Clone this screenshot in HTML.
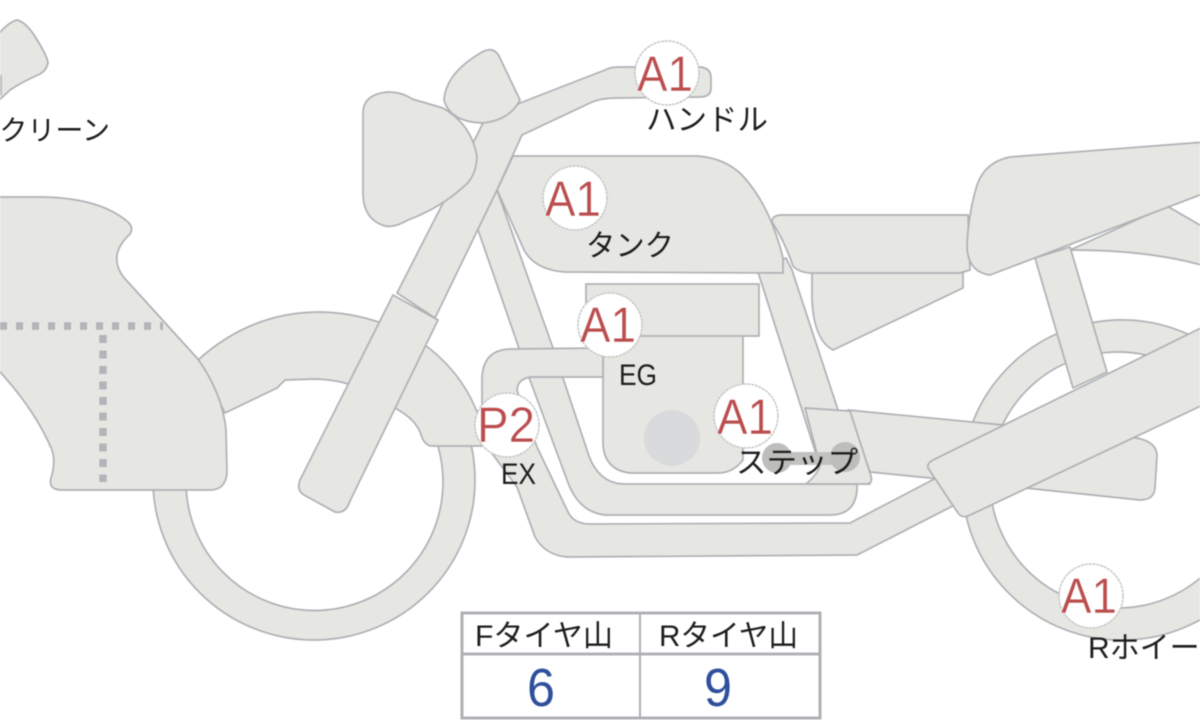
<!DOCTYPE html>
<html lang="ja">
<head>
<meta charset="utf-8">
<title>バイク図</title>
<style>
html,body{margin:0;padding:0;background:#fff;width:1200px;height:720px;overflow:hidden}
svg{display:block;filter:blur(.4px)}
.p{fill:#e6e7e3;stroke:#aeb1b4;stroke-width:1.7;stroke-linejoin:round}
.c{fill:#fff;stroke:#c6c6c6;stroke-width:1.5;stroke-dasharray:3 .8}
.r{font-family:"Liberation Sans",sans-serif;font-size:50px;fill:#bb4d4d;text-anchor:middle;stroke:#fff;stroke-width:.4}
.t{font-family:"Liberation Sans","Noto Sans CJK JP",sans-serif;font-size:30px;fill:#1d1d1d}
.n{font-family:"Liberation Sans",sans-serif;font-size:54px;fill:#2f4f9c;text-anchor:middle}
</style>
</head>
<body>
<svg width="1200" height="720" viewBox="0 0 1200 720" xmlns="http://www.w3.org/2000/svg">
<!-- windscreen -->
<path class="p" d="M-5 38 Q8 22 17 20 Q26 22 36 38 Q46 54 48 62 Q47 70 40 74 Q22 82 10 90 L-5 104 Z"/>
<rect x="0" y="75" width="2" height="20" fill="#bdbdbd"/>
<!-- front wheel -->
<path class="p" fill-rule="evenodd" d="M153 480 a161 160 0 1 0 322 0 a161 160 0 1 0 -322 0 Z M186 482 a128 128 0 1 1 257 0 a128 128 0 1 1 -257 0 Z"/>
<!-- fender -->
<path class="p" d="M198 360 Q250 313 317 312 Q375 312 425 345 Q465 375 480 420 L482 446 L432 446 Q425 446 421 435 Q417 420 395 408 Q360 380 315 379 L285 380 L277 388 L225 413 Z"/>
<!-- fairing -->
<path class="p" d="M-5 197 L43 197 Q100 198 128 222 Q134 228 130 234 Q115 248 117 262 Q118 272 128 282 L197 358 Q222 392 226 430 L227 472 Q226 490 210 490 L62 490 Q48 490 51 478 Q56 462 52 450 Q35 410 0 372 L-5 366 Z"/>
<path d="M0 326 H163" stroke="#b2b4b8" stroke-width="7.5" stroke-dasharray="7 9" fill="none"/>
<path d="M103 335 V482" stroke="#b2b4b8" stroke-width="7.5" stroke-dasharray="8 7.5" fill="none"/>
<!-- rear wheel -->
<path class="p" fill-rule="evenodd" d="M962 480 a160 160 0 1 0 320 0 a160 160 0 1 0 -320 0 Z M990 480 a128 128 0 1 1 256 0 a128 128 0 1 1 -256 0 Z"/>
<!-- rear fender -->
<path class="p" d="M1070 250 L1167 206 L1205 228 L1205 266 Q1150 250 1070 250 Z"/>
<!-- shock -->
<path class="p" d="M1035 258 L1070 247 L1107 372 L1073 388 Z"/>
<!-- lower seat panel -->
<path class="p" d="M812 270 L963 270 L963 288 L833 350 Q814 340 812 300 Z"/>
<!-- swing arm / chain guard -->
<path class="p" d="M848 410 L1003 425 L1137 438 Q1157 442 1157 456 L1155 488 Q1154 500 1140 500 L930 478 L870 472 Z"/>
<!-- right frame tube -->
<path class="p" d="M758 272 L786 258 L792 270 L838 410 L820 470 L817 457 Z"/>
<!-- U frame -->
<path class="p" d="M497 190 L553 348 L587 450 Q597 484 625 484 L870 484 L857 484 L857 490 Q855 515 830 515 L605 515 Q578 512 567 480 L530 380 L477 227 Z"/>
<!-- step bracket -->
<path class="p" d="M805 408 L850 411 L871 476 Q873 484 866 484 L806 484 Q818 474 820 465 Z"/>
<!-- engine -->
<path class="p" d="M603 330 L743 330 L743 387 L743 460 Q733 473 718 473 L630 473 Q605 470 603 445 Z"/>
<rect x="586" y="284" width="173" height="52" class="p"/>
<circle cx="672" cy="438" r="28" fill="#d9dadb"/>
<!-- exhaust -->
<path class="p" d="M482 440 L482 378 Q483 350 510 349 L603 348 L603 377 L532 377 Q518 378 517 390 L537 447 L568 512 Q574 524 590 524 L850 523 L965 463 L980 492 L857 555 L567 557 Q545 555 535 537 L517 487 Z"/>
<!-- step dots -->
<rect x="777" y="452" width="68" height="13" fill="#c2c2c0"/>
<circle cx="777" cy="458" r="15" fill="#bdbdbb"/>
<circle cx="845" cy="457" r="15" fill="#bdbdbb"/>
<!-- tank -->
<path class="p" d="M497 190 L513 156 L697 156 Q725 158 742 175 Q770 205 783 258 L783 273 L565 272 Q535 270 524 250 Z"/>
<!-- side panel -->
<path class="p" d="M772 222 Q772 215 782 215 L968 215 L970 270 L960 273 L810 273 Q798 272 793 266 Q784 240 772 222 Z"/>
<!-- seat -->
<path class="p" d="M1205 142 L1010 157 Q985 162 977 185 Q968 215 967 247 Q968 272 990 275 L1205 193 Z"/>
<!-- big rear arm -->
<path class="p" d="M928 468 Q927 463 933 460 L1205 326 L1205 404 L968 516 Q961 518 958 513 Z"/>
<!-- fork upper + handlebar -->
<path class="p" d="M397 293 L443 203 L483 123 L520 103 L605 70 Q610 67 620 67 L700 67 Q711 68 711 78 L711 88 Q711 97 700 97 L617 98 Q600 98 590 103 L522 135 L497 190 L435 318 Z"/>
<!-- fork lower -->
<path class="p" d="M393 295 L438 320 L350 501 Q346 514 335 512 L304 495 Q296 490 300 480 Z"/>
<!-- headlight -->
<path class="p" d="M363 112 Q364 94 388 92 Q402 92 412 99 L443 108 Q472 125 477 157 Q476 178 462 188 Q440 208 408 220 Q394 228 385 226 Q364 220 363 195 Z"/>
<!-- bulb -->
<path class="p" d="M484 51 Q494 47 499 56 L520 100 Q510 120 483 123 Q450 122 444 100 Q446 72 484 51 Z"/>
<!-- badges -->
<circle class="c" cx="667" cy="73" r="32"/>
<text class="r" x="665" y="91" textLength="56" lengthAdjust="spacingAndGlyphs">A1</text>
<circle class="c" cx="575" cy="198" r="32"/>
<text class="r" x="573" y="216" textLength="56" lengthAdjust="spacingAndGlyphs">A1</text>
<circle class="c" cx="610" cy="325" r="32"/>
<text class="r" x="608" y="342" textLength="56" lengthAdjust="spacingAndGlyphs">A1</text>
<circle class="c" cx="746" cy="416" r="32"/>
<text class="r" x="745" y="434" textLength="56" lengthAdjust="spacingAndGlyphs">A1</text>
<circle class="c" cx="507" cy="425" r="32"/>
<text class="r" x="506" y="442" textLength="58" lengthAdjust="spacingAndGlyphs">P2</text>
<circle class="c" cx="1091" cy="596" r="32"/>
<text class="r" x="1089" y="613" textLength="56" lengthAdjust="spacingAndGlyphs">A1</text>
<!-- labels -->
<text class="t" x="110" y="140" text-anchor="end" style="font-size:28px">スクリーン</text>
<text class="t" x="646" y="130" textLength="122" lengthAdjust="spacingAndGlyphs">ハンドル</text>
<text class="t" x="586" y="256" textLength="88" lengthAdjust="spacingAndGlyphs">タンク</text>
<text class="t" x="619" y="385" textLength="38" lengthAdjust="spacingAndGlyphs">EG</text>
<text class="t" x="501" y="484" textLength="35" lengthAdjust="spacingAndGlyphs">EX</text>
<text class="t" x="736" y="473" textLength="122" lengthAdjust="spacingAndGlyphs">ステップ</text>
<text class="t" x="1088" y="658">Rホイール</text>
<!-- table -->
<rect x="462" y="613" width="358" height="105" fill="#fff" stroke="#aeb0b4" stroke-width="3"/>
<path d="M462 654 H820" stroke="#aeb0b4" stroke-width="3"/>
<path d="M640 613 V718" stroke="#aeb0b4" stroke-width="2"/>
<text class="t" x="475" y="646" textLength="138" lengthAdjust="spacingAndGlyphs">Fタイヤ山</text>
<text class="t" x="659" y="646" textLength="139" lengthAdjust="spacingAndGlyphs">Rタイヤ山</text>
<text class="n" x="541" y="706" textLength="28" lengthAdjust="spacingAndGlyphs">6</text>
<text class="n" x="718" y="706" textLength="28" lengthAdjust="spacingAndGlyphs">9</text>
</svg>
</body>
</html>
